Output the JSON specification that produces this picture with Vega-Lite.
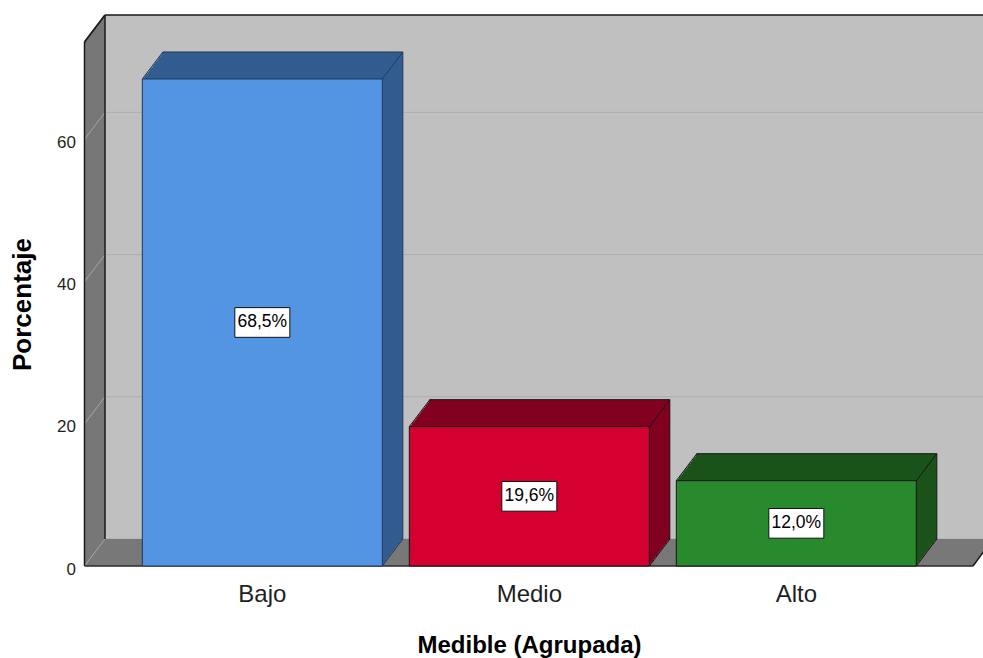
{
  "$schema": "https://vega.github.io/schema/vega-lite/v6.json",
  "width": 878,
  "height": 524,
  "autosize": {"type": "none"},
  "padding": {"left": 105, "top": 15, "right": 0, "bottom": 119},
  "background": "white",
  "config": {
    "view": {"fill": "#c0c0c0", "stroke": null},
    "font": "Liberation Sans",
    "axis": {"labelFont": "Liberation Sans", "titleFont": "Liberation Sans"}
  },
  "datasets": {
    "porcentajes": [
      {"nivel": "Bajo", "porcentaje": 68.5},
      {"nivel": "Medio", "porcentaje": 19.6},
      {"nivel": "Alto", "porcentaje": 12.0}
    ],
    "divisiones": [{"v": 0}, {"v": 20}, {"v": 40}, {"v": 60}],
    "marco": [{}]
  },
  "resolve": {"scale": {"x": "independent"}},
  "layer": [
    {
      "data": {"name": "marco"},
      "layer": [
        {"data": {"name": "divisiones"}, "mark": {"type": "rule", "color": "#adadad", "strokeWidth": 1}, "encoding": {"y": {"field": "v", "type": "quantitative", "scale": {"domain": [0, 73.7], "nice": false}}}},

        {"mark": {"type": "rule", "color": "#787878", "strokeWidth": 2.2, "xOffset": -1.1, "yOffset": 1.45, "y2Offset": 1.45}, "encoding": {"x": {"datum": 0, "type": "quantitative", "scale": {"domain": [0, 1], "nice": false}, "axis": null}, "y": {"datum": 73.7, "type": "quantitative"}, "y2": {"datum": 0}}},
        {"mark": {"type": "rule", "color": "#787878", "strokeWidth": 2.2, "xOffset": -2.02, "yOffset": 2.65, "y2Offset": 2.65}, "encoding": {"x": {"datum": 0, "type": "quantitative", "axis": null}, "y": {"datum": 73.7, "type": "quantitative"}, "y2": {"datum": 0}}},
        {"mark": {"type": "rule", "color": "#787878", "strokeWidth": 2.2, "xOffset": -2.93, "yOffset": 3.86, "y2Offset": 3.86}, "encoding": {"x": {"datum": 0, "type": "quantitative", "axis": null}, "y": {"datum": 73.7, "type": "quantitative"}, "y2": {"datum": 0}}},
        {"mark": {"type": "rule", "color": "#787878", "strokeWidth": 2.2, "xOffset": -3.85, "yOffset": 5.07, "y2Offset": 5.07}, "encoding": {"x": {"datum": 0, "type": "quantitative", "axis": null}, "y": {"datum": 73.7, "type": "quantitative"}, "y2": {"datum": 0}}},
        {"mark": {"type": "rule", "color": "#787878", "strokeWidth": 2.2, "xOffset": -4.76, "yOffset": 6.27, "y2Offset": 6.27}, "encoding": {"x": {"datum": 0, "type": "quantitative", "axis": null}, "y": {"datum": 73.7, "type": "quantitative"}, "y2": {"datum": 0}}},
        {"mark": {"type": "rule", "color": "#787878", "strokeWidth": 2.2, "xOffset": -5.68, "yOffset": 7.48, "y2Offset": 7.48}, "encoding": {"x": {"datum": 0, "type": "quantitative", "axis": null}, "y": {"datum": 73.7, "type": "quantitative"}, "y2": {"datum": 0}}},
        {"mark": {"type": "rule", "color": "#787878", "strokeWidth": 2.2, "xOffset": -6.59, "yOffset": 8.68, "y2Offset": 8.68}, "encoding": {"x": {"datum": 0, "type": "quantitative", "axis": null}, "y": {"datum": 73.7, "type": "quantitative"}, "y2": {"datum": 0}}},
        {"mark": {"type": "rule", "color": "#787878", "strokeWidth": 2.2, "xOffset": -7.51, "yOffset": 9.89, "y2Offset": 9.89}, "encoding": {"x": {"datum": 0, "type": "quantitative", "axis": null}, "y": {"datum": 73.7, "type": "quantitative"}, "y2": {"datum": 0}}},
        {"mark": {"type": "rule", "color": "#787878", "strokeWidth": 2.2, "xOffset": -8.42, "yOffset": 11.09, "y2Offset": 11.09}, "encoding": {"x": {"datum": 0, "type": "quantitative", "axis": null}, "y": {"datum": 73.7, "type": "quantitative"}, "y2": {"datum": 0}}},
        {"mark": {"type": "rule", "color": "#787878", "strokeWidth": 2.2, "xOffset": -9.34, "yOffset": 12.3, "y2Offset": 12.3}, "encoding": {"x": {"datum": 0, "type": "quantitative", "axis": null}, "y": {"datum": 73.7, "type": "quantitative"}, "y2": {"datum": 0}}},
        {"mark": {"type": "rule", "color": "#787878", "strokeWidth": 2.2, "xOffset": -10.25, "yOffset": 13.5, "y2Offset": 13.5}, "encoding": {"x": {"datum": 0, "type": "quantitative", "axis": null}, "y": {"datum": 73.7, "type": "quantitative"}, "y2": {"datum": 0}}},
        {"mark": {"type": "rule", "color": "#787878", "strokeWidth": 2.2, "xOffset": -11.17, "yOffset": 14.71, "y2Offset": 14.71}, "encoding": {"x": {"datum": 0, "type": "quantitative", "axis": null}, "y": {"datum": 73.7, "type": "quantitative"}, "y2": {"datum": 0}}},
        {"mark": {"type": "rule", "color": "#787878", "strokeWidth": 2.2, "xOffset": -12.08, "yOffset": 15.91, "y2Offset": 15.91}, "encoding": {"x": {"datum": 0, "type": "quantitative", "axis": null}, "y": {"datum": 73.7, "type": "quantitative"}, "y2": {"datum": 0}}},
        {"mark": {"type": "rule", "color": "#787878", "strokeWidth": 2.2, "xOffset": -13.0, "yOffset": 17.12, "y2Offset": 17.12}, "encoding": {"x": {"datum": 0, "type": "quantitative", "axis": null}, "y": {"datum": 73.7, "type": "quantitative"}, "y2": {"datum": 0}}},
        {"mark": {"type": "rule", "color": "#787878", "strokeWidth": 2.2, "xOffset": -13.91, "yOffset": 18.32, "y2Offset": 18.32}, "encoding": {"x": {"datum": 0, "type": "quantitative", "axis": null}, "y": {"datum": 73.7, "type": "quantitative"}, "y2": {"datum": 0}}},
        {"mark": {"type": "rule", "color": "#787878", "strokeWidth": 2.2, "xOffset": -14.83, "yOffset": 19.53, "y2Offset": 19.53}, "encoding": {"x": {"datum": 0, "type": "quantitative", "axis": null}, "y": {"datum": 73.7, "type": "quantitative"}, "y2": {"datum": 0}}},
        {"mark": {"type": "rule", "color": "#787878", "strokeWidth": 2.2, "xOffset": -15.74, "yOffset": 20.73, "y2Offset": 20.73}, "encoding": {"x": {"datum": 0, "type": "quantitative", "axis": null}, "y": {"datum": 73.7, "type": "quantitative"}, "y2": {"datum": 0}}},
        {"mark": {"type": "rule", "color": "#787878", "strokeWidth": 2.2, "xOffset": -16.66, "yOffset": 21.94, "y2Offset": 21.94}, "encoding": {"x": {"datum": 0, "type": "quantitative", "axis": null}, "y": {"datum": 73.7, "type": "quantitative"}, "y2": {"datum": 0}}},
        {"mark": {"type": "rule", "color": "#787878", "strokeWidth": 2.2, "xOffset": -17.57, "yOffset": 23.14, "y2Offset": 23.14}, "encoding": {"x": {"datum": 0, "type": "quantitative", "axis": null}, "y": {"datum": 73.7, "type": "quantitative"}, "y2": {"datum": 0}}},
        {"mark": {"type": "rule", "color": "#787878", "strokeWidth": 2.2, "xOffset": -18.49, "yOffset": 24.35, "y2Offset": 24.35}, "encoding": {"x": {"datum": 0, "type": "quantitative", "axis": null}, "y": {"datum": 73.7, "type": "quantitative"}, "y2": {"datum": 0}}},
        {"mark": {"type": "rule", "color": "#787878", "strokeWidth": 2.2, "xOffset": -19.4, "yOffset": 25.55, "y2Offset": 25.55}, "encoding": {"x": {"datum": 0, "type": "quantitative", "axis": null}, "y": {"datum": 73.7, "type": "quantitative"}, "y2": {"datum": 0}}},

        {"mark": {"type": "rule", "color": "#787878", "strokeWidth": 2.8, "xOffset": -1.1, "x2Offset": 8.9, "yOffset": 1.45}, "encoding": {"x": {"datum": 0, "type": "quantitative", "axis": null}, "x2": {"datum": 1}, "y": {"datum": 0, "type": "quantitative"}}},
        {"mark": {"type": "rule", "color": "#787878", "strokeWidth": 2.8, "xOffset": -2.02, "x2Offset": 7.98, "yOffset": 2.65}, "encoding": {"x": {"datum": 0, "type": "quantitative", "axis": null}, "x2": {"datum": 1}, "y": {"datum": 0, "type": "quantitative"}}},
        {"mark": {"type": "rule", "color": "#787878", "strokeWidth": 2.8, "xOffset": -2.93, "x2Offset": 7.07, "yOffset": 3.86}, "encoding": {"x": {"datum": 0, "type": "quantitative", "axis": null}, "x2": {"datum": 1}, "y": {"datum": 0, "type": "quantitative"}}},
        {"mark": {"type": "rule", "color": "#787878", "strokeWidth": 2.8, "xOffset": -3.85, "x2Offset": 6.15, "yOffset": 5.07}, "encoding": {"x": {"datum": 0, "type": "quantitative", "axis": null}, "x2": {"datum": 1}, "y": {"datum": 0, "type": "quantitative"}}},
        {"mark": {"type": "rule", "color": "#787878", "strokeWidth": 2.8, "xOffset": -4.76, "x2Offset": 5.24, "yOffset": 6.27}, "encoding": {"x": {"datum": 0, "type": "quantitative", "axis": null}, "x2": {"datum": 1}, "y": {"datum": 0, "type": "quantitative"}}},
        {"mark": {"type": "rule", "color": "#787878", "strokeWidth": 2.8, "xOffset": -5.68, "x2Offset": 4.32, "yOffset": 7.48}, "encoding": {"x": {"datum": 0, "type": "quantitative", "axis": null}, "x2": {"datum": 1}, "y": {"datum": 0, "type": "quantitative"}}},
        {"mark": {"type": "rule", "color": "#787878", "strokeWidth": 2.8, "xOffset": -6.59, "x2Offset": 3.41, "yOffset": 8.68}, "encoding": {"x": {"datum": 0, "type": "quantitative", "axis": null}, "x2": {"datum": 1}, "y": {"datum": 0, "type": "quantitative"}}},
        {"mark": {"type": "rule", "color": "#787878", "strokeWidth": 2.8, "xOffset": -7.51, "x2Offset": 2.49, "yOffset": 9.89}, "encoding": {"x": {"datum": 0, "type": "quantitative", "axis": null}, "x2": {"datum": 1}, "y": {"datum": 0, "type": "quantitative"}}},
        {"mark": {"type": "rule", "color": "#787878", "strokeWidth": 2.8, "xOffset": -8.42, "x2Offset": 1.58, "yOffset": 11.09}, "encoding": {"x": {"datum": 0, "type": "quantitative", "axis": null}, "x2": {"datum": 1}, "y": {"datum": 0, "type": "quantitative"}}},
        {"mark": {"type": "rule", "color": "#787878", "strokeWidth": 2.8, "xOffset": -9.34, "x2Offset": 0.66, "yOffset": 12.3}, "encoding": {"x": {"datum": 0, "type": "quantitative", "axis": null}, "x2": {"datum": 1}, "y": {"datum": 0, "type": "quantitative"}}},
        {"mark": {"type": "rule", "color": "#787878", "strokeWidth": 2.8, "xOffset": -10.25, "x2Offset": -0.25, "yOffset": 13.5}, "encoding": {"x": {"datum": 0, "type": "quantitative", "axis": null}, "x2": {"datum": 1}, "y": {"datum": 0, "type": "quantitative"}}},
        {"mark": {"type": "rule", "color": "#787878", "strokeWidth": 2.8, "xOffset": -11.17, "x2Offset": -1.17, "yOffset": 14.71}, "encoding": {"x": {"datum": 0, "type": "quantitative", "axis": null}, "x2": {"datum": 1}, "y": {"datum": 0, "type": "quantitative"}}},
        {"mark": {"type": "rule", "color": "#787878", "strokeWidth": 2.8, "xOffset": -12.08, "x2Offset": -2.08, "yOffset": 15.91}, "encoding": {"x": {"datum": 0, "type": "quantitative", "axis": null}, "x2": {"datum": 1}, "y": {"datum": 0, "type": "quantitative"}}},
        {"mark": {"type": "rule", "color": "#787878", "strokeWidth": 2.8, "xOffset": -13.0, "x2Offset": -3.0, "yOffset": 17.12}, "encoding": {"x": {"datum": 0, "type": "quantitative", "axis": null}, "x2": {"datum": 1}, "y": {"datum": 0, "type": "quantitative"}}},
        {"mark": {"type": "rule", "color": "#787878", "strokeWidth": 2.8, "xOffset": -13.91, "x2Offset": -3.91, "yOffset": 18.32}, "encoding": {"x": {"datum": 0, "type": "quantitative", "axis": null}, "x2": {"datum": 1}, "y": {"datum": 0, "type": "quantitative"}}},
        {"mark": {"type": "rule", "color": "#787878", "strokeWidth": 2.8, "xOffset": -14.83, "x2Offset": -4.83, "yOffset": 19.53}, "encoding": {"x": {"datum": 0, "type": "quantitative", "axis": null}, "x2": {"datum": 1}, "y": {"datum": 0, "type": "quantitative"}}},
        {"mark": {"type": "rule", "color": "#787878", "strokeWidth": 2.8, "xOffset": -15.74, "x2Offset": -5.74, "yOffset": 20.73}, "encoding": {"x": {"datum": 0, "type": "quantitative", "axis": null}, "x2": {"datum": 1}, "y": {"datum": 0, "type": "quantitative"}}},
        {"mark": {"type": "rule", "color": "#787878", "strokeWidth": 2.8, "xOffset": -16.66, "x2Offset": -6.66, "yOffset": 21.94}, "encoding": {"x": {"datum": 0, "type": "quantitative", "axis": null}, "x2": {"datum": 1}, "y": {"datum": 0, "type": "quantitative"}}},
        {"mark": {"type": "rule", "color": "#787878", "strokeWidth": 2.8, "xOffset": -17.57, "x2Offset": -7.57, "yOffset": 23.14}, "encoding": {"x": {"datum": 0, "type": "quantitative", "axis": null}, "x2": {"datum": 1}, "y": {"datum": 0, "type": "quantitative"}}},
        {"mark": {"type": "rule", "color": "#787878", "strokeWidth": 2.8, "xOffset": -18.49, "x2Offset": -8.49, "yOffset": 24.35}, "encoding": {"x": {"datum": 0, "type": "quantitative", "axis": null}, "x2": {"datum": 1}, "y": {"datum": 0, "type": "quantitative"}}},
        {"mark": {"type": "rule", "color": "#787878", "strokeWidth": 2.8, "xOffset": -19.4, "x2Offset": -9.4, "yOffset": 25.55}, "encoding": {"x": {"datum": 0, "type": "quantitative", "axis": null}, "x2": {"datum": 1}, "y": {"datum": 0, "type": "quantitative"}}},

        {"data": {"name": "divisiones"}, "mark": {"type": "rule", "color": "#a6a6a6", "strokeWidth": 1, "x2Offset": -20.5, "y2Offset": 27}, "encoding": {"x": {"datum": 0, "type": "quantitative", "axis": null}, "x2": {"datum": 0}, "y": {"field": "v", "type": "quantitative"}, "y2": {"field": "v"}}},

        {"mark": {"type": "rule", "color": "#1a1a1a", "strokeWidth": 1.5}, "encoding": {"x": {"datum": 0, "type": "quantitative", "axis": null}, "y": {"datum": 73.7, "type": "quantitative"}, "y2": {"datum": 0}}},
        {"mark": {"type": "rule", "color": "#1a1a1a", "strokeWidth": 1.5, "xOffset": -20.5, "yOffset": 27, "y2Offset": 27}, "encoding": {"x": {"datum": 0, "type": "quantitative", "axis": null}, "y": {"datum": 73.7, "type": "quantitative"}, "y2": {"datum": 0}}},
        {"mark": {"type": "rule", "color": "#1a1a1a", "strokeWidth": 1.6}, "encoding": {"x": {"datum": 0, "type": "quantitative", "axis": null}, "x2": {"datum": 1}, "y": {"datum": 73.7, "type": "quantitative"}}},
        {"mark": {"type": "rule", "color": "#1a1a1a", "strokeWidth": 1.8, "x2Offset": -20.5, "y2Offset": 27}, "encoding": {"x": {"datum": 0, "type": "quantitative", "axis": null}, "x2": {"datum": 0}, "y": {"datum": 73.7, "type": "quantitative"}, "y2": {"datum": 73.7}}},
        {"mark": {"type": "rule", "color": "#2a2a2a", "strokeWidth": 1.5, "xOffset": -20.5, "x2Offset": -10, "yOffset": 27}, "encoding": {"x": {"datum": 0, "type": "quantitative", "axis": null}, "x2": {"datum": 1}, "y": {"datum": 0, "type": "quantitative"}}},
        {"mark": {"type": "rule", "color": "#1a1a1a", "strokeWidth": 1.5, "xOffset": -10, "yOffset": 27, "x2Offset": 10}, "encoding": {"x": {"datum": 1, "type": "quantitative", "axis": null}, "x2": {"datum": 1}, "y": {"datum": 0, "type": "quantitative"}, "y2": {"datum": 0}}}
      ]
    },
    {
      "data": {"name": "porcentajes"},
      "encoding": {
        "x": {"field": "nivel", "type": "nominal", "scale": {"domain": ["Bajo", "Medio", "Alto"], "paddingInner": 0.1011, "paddingOuter": 0.1948, "align": 0.556}, "axis": {"title": "Medible (Agrupada)", "labelAngle": 0, "ticks": false, "tickSize": 0, "domain": false, "grid": false, "offset": 27, "labelPadding": 16, "labelOffset": -20.5, "labelFontSize": 24, "labelColor": "#1f1f1f", "titleFontSize": 24, "titleFontWeight": "bold", "titleColor": "#000000", "titlePadding": 27, "titleX": 424}},
        "y": {"field": "porcentaje", "type": "quantitative", "scale": {"domain": [0, 73.7], "nice": false}, "axis": {"title": "Porcentaje", "values": [0, 20, 40, 60], "ticks": false, "tickSize": 0, "domain": false, "grid": false, "offset": 20.5, "labelPadding": 9, "labelOffset": 30, "labelFontSize": 17, "labelColor": "#1f1f1f", "titleFontSize": 26, "titleFontWeight": "bold", "titleColor": "#000000", "titlePadding": 21, "titleY": 289}}
      },
      "layer": [
        {"mark": {"type": "bar", "strokeWidth": 1}, "encoding": {"color": {"field": "nivel", "type": "nominal", "scale": {"domain": ["Bajo", "Medio", "Alto"], "range": ["#335c8f", "#820020", "#1b531b"]}, "legend": null}, "stroke": {"field": "nivel", "type": "nominal", "scale": {"domain": ["Bajo", "Medio", "Alto"], "range": ["#22395a", "#161616", "#161616"]}, "legend": null}}},
        {"mark": {"type": "bar", "xOffset": -1.28, "x2Offset": -1.28, "yOffset": 1.69, "y2Offset": 1.69}, "encoding": {"color": {"field": "nivel", "type": "nominal", "legend": null}}},
        {"mark": {"type": "bar", "xOffset": -2.56, "x2Offset": -2.56, "yOffset": 3.38, "y2Offset": 3.38}, "encoding": {"color": {"field": "nivel", "type": "nominal", "legend": null}}},
        {"mark": {"type": "bar", "xOffset": -3.84, "x2Offset": -3.84, "yOffset": 5.06, "y2Offset": 5.06}, "encoding": {"color": {"field": "nivel", "type": "nominal", "legend": null}}},
        {"mark": {"type": "bar", "xOffset": -5.13, "x2Offset": -5.13, "yOffset": 6.75, "y2Offset": 6.75}, "encoding": {"color": {"field": "nivel", "type": "nominal", "legend": null}}},
        {"mark": {"type": "bar", "xOffset": -6.41, "x2Offset": -6.41, "yOffset": 8.44, "y2Offset": 8.44}, "encoding": {"color": {"field": "nivel", "type": "nominal", "legend": null}}},
        {"mark": {"type": "bar", "xOffset": -7.69, "x2Offset": -7.69, "yOffset": 10.13, "y2Offset": 10.13}, "encoding": {"color": {"field": "nivel", "type": "nominal", "legend": null}}},
        {"mark": {"type": "bar", "xOffset": -8.97, "x2Offset": -8.97, "yOffset": 11.81, "y2Offset": 11.81}, "encoding": {"color": {"field": "nivel", "type": "nominal", "legend": null}}},
        {"mark": {"type": "bar", "xOffset": -10.25, "x2Offset": -10.25, "yOffset": 13.5, "y2Offset": 13.5}, "encoding": {"color": {"field": "nivel", "type": "nominal", "legend": null}}},
        {"mark": {"type": "bar", "xOffset": -11.53, "x2Offset": -11.53, "yOffset": 15.19, "y2Offset": 15.19}, "encoding": {"color": {"field": "nivel", "type": "nominal", "legend": null}}},
        {"mark": {"type": "bar", "xOffset": -12.81, "x2Offset": -12.81, "yOffset": 16.88, "y2Offset": 16.88}, "encoding": {"color": {"field": "nivel", "type": "nominal", "legend": null}}},
        {"mark": {"type": "bar", "xOffset": -14.09, "x2Offset": -14.09, "yOffset": 18.56, "y2Offset": 18.56}, "encoding": {"color": {"field": "nivel", "type": "nominal", "legend": null}}},
        {"mark": {"type": "bar", "xOffset": -15.38, "x2Offset": -15.38, "yOffset": 20.25, "y2Offset": 20.25}, "encoding": {"color": {"field": "nivel", "type": "nominal", "legend": null}}},
        {"mark": {"type": "bar", "xOffset": -16.66, "x2Offset": -16.66, "yOffset": 21.94, "y2Offset": 21.94}, "encoding": {"color": {"field": "nivel", "type": "nominal", "legend": null}}},
        {"mark": {"type": "bar", "xOffset": -17.94, "x2Offset": -17.94, "yOffset": 23.63, "y2Offset": 23.63}, "encoding": {"color": {"field": "nivel", "type": "nominal", "legend": null}}},
        {"mark": {"type": "bar", "xOffset": -19.22, "x2Offset": -19.22, "yOffset": 25.31, "y2Offset": 25.31}, "encoding": {"color": {"field": "nivel", "type": "nominal", "legend": null}}},

        {
          "mark": {"type": "bar", "strokeWidth": 1, "xOffset": -20.5, "x2Offset": -20.5, "yOffset": 27, "y2Offset": 27},
          "encoding": {
            "fill": {"field": "nivel", "type": "nominal", "scale": {"domain": ["Bajo", "Medio", "Alto"], "range": ["#5394e3", "#d40030", "#288a2d"]}, "legend": null},
            "stroke": {"field": "nivel", "type": "nominal", "legend": null}
          }
        },

        {"mark": {"type": "rule", "strokeWidth": 1, "x2Offset": -20.5, "y2Offset": 27}, "encoding": {"x": {"field": "nivel", "type": "nominal", "bandPosition": 0}, "x2": {"field": "nivel", "bandPosition": 0}, "y2": {"field": "porcentaje"}, "stroke": {"field": "nivel", "type": "nominal", "legend": null}}},
        {"mark": {"type": "rule", "strokeWidth": 1, "x2Offset": -20.5, "y2Offset": 27}, "encoding": {"x": {"field": "nivel", "type": "nominal", "bandPosition": 1}, "x2": {"field": "nivel", "bandPosition": 1}, "y2": {"field": "porcentaje"}, "stroke": {"field": "nivel", "type": "nominal", "legend": null}}},
        {"mark": {"type": "rule", "strokeWidth": 1, "x2Offset": -20.5, "y2Offset": 27}, "encoding": {"x": {"field": "nivel", "type": "nominal", "bandPosition": 1}, "x2": {"field": "nivel", "bandPosition": 1}, "y": {"datum": 0, "type": "quantitative"}, "y2": {"datum": 0}, "stroke": {"field": "nivel", "type": "nominal", "legend": null}}},

        {"mark": {"type": "point", "shape": "M-1,-0.54H1V0.54H-1Z", "size": 3025, "filled": true, "fill": "#ffffff", "stroke": "#111111", "strokeWidth": 1, "opacity": 1, "xOffset": -20.5, "yOffset": 27}, "encoding": {"y": {"field": "porcentaje", "type": "quantitative", "stack": "zero", "bandPosition": 0.5}}},
        {"mark": {"type": "text", "text": {"expr": "replace(format(datum.porcentaje, '.1f'), '.', ',') + '%'"}, "fontSize": 17.5, "color": "#000000", "align": "center", "baseline": "middle", "xOffset": -20.5, "yOffset": 27}, "encoding": {"y": {"field": "porcentaje", "type": "quantitative", "stack": "zero", "bandPosition": 0.5}}}
      ]
    }
  ]
}
